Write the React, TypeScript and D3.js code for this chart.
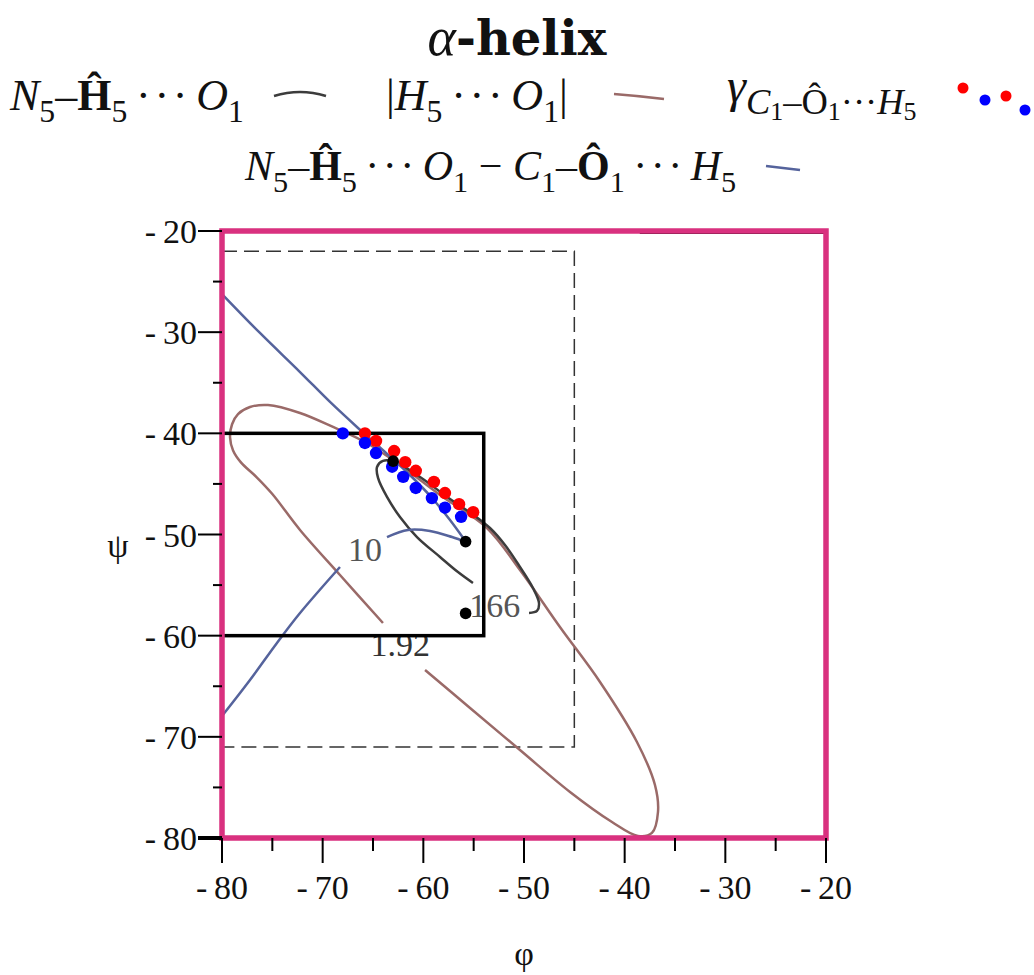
import React from 'react';
import * as d3 from 'd3';

type Pt = [number, number];

// axis ticks (degrees)
const phiTicks = [-80, -70, -60, -50, -40, -30, -20];
const psiTicks = [-20, -30, -40, -50, -60, -70, -80];
const minorTicks = [-75, -65, -55, -45, -35, -25];

// |H5···O1| = 1.92 contour (open at its label)
const hoContour: Pt[] = [
  [-59.83, -63.39], [-55.36, -67.15], [-50.4, -71.3], [-45.43, -75.45], [-41.26, -78.42],
  [-38.68, -79.8], [-37.29, -79.5], [-36.69, -77.43], [-36.99, -74.76], [-38.78, -70.51],
  [-42.45, -64.58], [-46.43, -59.14], [-50.4, -53.51], [-53.68, -49.36], [-58.34, -46.09],
  [-62.32, -43.13], [-65.8, -40.86], [-68.97, -39.37], [-72.25, -37.99], [-75.43, -37.2],
  [-77.22, -37.4], [-78.41, -38.1], [-79.0, -39.1], [-79.2, -40.4], [-78.9, -41.7],
  [-78.1, -42.9], [-76.6, -44.3], [-75.0, -46.0], [-72.25, -49.55], [-68.28, -54.0],
  [-64.01, -58.75],
];

// N5–Ĥ5···O1 angle = 166 contour (open at its label)
const nhoContour: Pt[] = [
  [-55.07, -54.79], [-56.56, -53.71], [-58.34, -52.22], [-60.63, -50.25], [-62.32, -48.27],
  [-63.61, -46.29], [-64.5, -44.41], [-64.6, -43.33], [-64.01, -42.73], [-62.81, -42.83],
  [-60.33, -44.32], [-57.35, -46.49], [-54.87, -48.17], [-53.38, -49.36], [-51.89, -51.04],
  [-50.4, -53.21], [-49.11, -55.29], [-48.51, -56.77], [-48.71, -57.56], [-49.5, -57.76],
];

// dihedral difference = 10 contour, three pieces
const diffUpper: Pt[] = [
  [-80, -26.23], [-76.23, -30.08], [-72.25, -33.94], [-69.27, -36.9], [-66.49, -39.47],
  [-63.81, -41.84], [-61.33, -44.12], [-59.14, -46.39], [-57.35, -48.57], [-55.76, -50.74],
];
const diffReturn: Pt[] = [
  [-55.76, -50.74], [-57.15, -50.25], [-59.34, -49.65], [-61.52, -49.55], [-63.61, -50.25],
];
const diffLower: Pt[] = [
  [-68.28, -53.21], [-72.25, -57.76], [-74.54, -60.72], [-77.22, -64.38], [-80, -67.94],
];

// γ points
const gammaRed: Pt[] = [
  [-65.8, -40.0], [-64.7, -40.75], [-62.9, -41.75], [-61.8, -42.85], [-60.75, -43.7],
  [-58.95, -44.8], [-57.85, -45.9], [-56.45, -47.0], [-55.05, -47.8],
];
const gammaBlue: Pt[] = [
  [-68.0, -40.0], [-65.8, -40.95], [-64.7, -41.95], [-63.1, -43.3], [-62.0, -44.3],
  [-60.75, -45.4], [-59.15, -46.4], [-57.85, -47.35], [-56.25, -48.25],
];
const blackPoints: Pt[] = [[-63.0, -42.75], [-55.8, -50.7], [-55.8, -57.8]];

const contourLabels = [
  { text: '10', phi: -65.8, psi: -51.4, color: '#555' },
  { text: '166', phi: -52.9, psi: -57.0, color: '#555' },
  { text: '1.92', phi: -62.3, psi: -60.8, color: '#333' },
];

const dashedBox = { phi0: -80, phi1: -45, psi0: -22, psi1: -71 };
const solidBox = { phi0: -80, phi1: -54, psi0: -40, psi1: -60 };

type Seg = { t: string; f?: 'i' | 'b' | 'r'; lvl?: number };

const DOTS = '\u2009\u00b7\u200a\u00b7\u200a\u00b7\u2009';

const nhoLabel: Seg[] = [
  { t: 'N', f: 'i' }, { t: '5', lvl: 1 }, { t: '–' }, { t: 'Ĥ', f: 'b' }, { t: '5', lvl: 1 },
  { t: DOTS }, { t: 'O', f: 'i' }, { t: '1', lvl: 1 },
];
const hoLabel: Seg[] = [
  { t: '|' }, { t: 'H', f: 'i' }, { t: '5', lvl: 1 }, { t: DOTS }, { t: 'O', f: 'i' },
  { t: '1', lvl: 1 }, { t: '|' },
];
const gammaLabel: Seg[] = [
  { t: 'γ', f: 'i' }, { t: 'C', f: 'i', lvl: 1 }, { t: '1', lvl: 2 }, { t: '–', lvl: 1 },
  { t: 'Ô', lvl: 1 }, { t: '1', lvl: 2 }, { t: '···', lvl: 1 }, { t: 'H', f: 'i', lvl: 1 },
  { t: '5', lvl: 2 },
];
const diffLabel: Seg[] = [
  { t: 'N', f: 'i' }, { t: '5', lvl: 1 }, { t: '–' }, { t: 'Ĥ', f: 'b' }, { t: '5', lvl: 1 },
  { t: DOTS }, { t: 'O', f: 'i' }, { t: '1', lvl: 1 }, { t: ' − ' }, { t: 'C', f: 'i' },
  { t: '1', lvl: 1 }, { t: '–' }, { t: 'Ô', f: 'b' }, { t: '1', lvl: 1 }, { t: DOTS },
  { t: 'H', f: 'i' }, { t: '5', lvl: 1 },
];

const SERIF = "'Liberation Serif', 'Times New Roman', serif";
const PINK = '#d9317f';
const BROWN = '#9a6a68';
const SLATE = '#55639c';
const DARK = '#3c3c3c';

function MathText({
  segs,
  x,
  y,
  size,
  scale = [1, 0.72, 0.58],
  shift = [0, 0.28, 0.5],
}: {
  segs: Seg[];
  x: number;
  y: number;
  size: number;
  scale?: number[];
  shift?: number[];
}) {
  return (
    <text x={x} y={y} fontFamily={SERIF} fontSize={size} fill="#111">
      {segs.map((s, i) => {
        const lvl = s.lvl ?? 0;
        const prev = i > 0 ? segs[i - 1].lvl ?? 0 : 0;
        return (
          <tspan
            key={i}
            dy={(shift[lvl] - shift[prev]) * size}
            fontSize={size * scale[lvl]}
            fontStyle={s.f === 'i' ? 'italic' : 'normal'}
            fontWeight={s.f === 'b' ? 'bold' : 'normal'}
          >
            {s.t}
          </tspan>
        );
      })}
    </text>
  );
}

export default function App() {
  const x = d3.scaleLinear().domain([-80, -20]).range([222, 826]);
  const y = d3.scaleLinear().domain([-20, -80]).range([231, 838]);

  const curve = d3
    .line<Pt>()
    .x((d) => x(d[0]))
    .y((d) => y(d[1]))
    .curve(d3.curveCatmullRom.alpha(0.5));

  const box = (b: { phi0: number; phi1: number; psi0: number; psi1: number }) => ({
    x: x(b.phi0),
    y: y(b.psi0),
    width: x(b.phi1) - x(b.phi0),
    height: y(b.psi1) - y(b.psi0),
  });

  const dBox = box(dashedBox);
  const sBox = box(solidBox);

  return (
    <svg
      width={1034}
      height={975}
      style={{ position: 'absolute', left: 0, top: 0, background: '#fff' }}
    >
      {/* title */}
      <text
        x={517}
        y={55}
        textAnchor="middle"
        fontFamily="'DejaVu Serif', serif"
        fontSize={48}
        fontWeight="bold"
        fill="#111"
      >
        <tspan fontStyle="italic" fontWeight="normal" fontFamily={SERIF} fontSize={54}>
          α
        </tspan>
        -helix
      </text>

      {/* legend */}
      <MathText segs={nhoLabel} x={10} y={110} size={44} />
      <path d="M274,96 Q300,88 326,96" fill="none" stroke={DARK} strokeWidth={2.5} />
      <MathText segs={hoLabel} x={386} y={110} size={44} />
      <path d="M614,94 Q640,96 664,99" fill="none" stroke={BROWN} strokeWidth={2.5} />
      <MathText
        segs={gammaLabel}
        x={727}
        y={102}
        size={48}
        scale={[1, 0.76, 0.54]}
        shift={[0, 0.24, 0.38]}
      />
      {[
        { cx: 963, cy: 88, c: 'red' },
        { cx: 985, cy: 100, c: 'blue' },
        { cx: 1006, cy: 96, c: 'red' },
        { cx: 1025, cy: 110, c: 'blue' },
      ].map((d, i) => (
        <circle key={i} cx={d.cx} cy={d.cy} r={5.5} fill={d.c} />
      ))}
      <MathText segs={diffLabel} x={245} y={180} size={42} />
      <path d="M766,166 L800,170" fill="none" stroke={SLATE} strokeWidth={2.5} />

      <rect {...dBox} fill="none" stroke="#333" strokeWidth={1.5} strokeDasharray="15 7" />

      {/* contours */}
      <path d={curve(hoContour) ?? ''} fill="none" stroke={BROWN} strokeWidth={2.5} />
      <path d={curve(nhoContour) ?? ''} fill="none" stroke={DARK} strokeWidth={2.5} />
      <path d={curve(diffUpper) ?? ''} fill="none" stroke={SLATE} strokeWidth={2.5} />
      <path d={curve(diffReturn) ?? ''} fill="none" stroke={SLATE} strokeWidth={2.5} />
      <path d={curve(diffLower) ?? ''} fill="none" stroke={SLATE} strokeWidth={2.5} />

      {contourLabels.map((l) => (
        <text
          key={l.text}
          x={x(l.phi)}
          y={y(l.psi) + 12}
          textAnchor="middle"
          fontFamily={SERIF}
          fontSize={34}
          fill={l.color}
        >
          {l.text}
        </text>
      ))}

      <rect {...sBox} fill="none" stroke="#000" strokeWidth={3.5} />

      {/* γ points */}
      {gammaRed.map((d, i) => (
        <circle key={'r' + i} cx={x(d[0])} cy={y(d[1])} r={6.2} fill="red" />
      ))}
      {gammaBlue.map((d, i) => (
        <circle key={'b' + i} cx={x(d[0])} cy={y(d[1])} r={6.2} fill="blue" />
      ))}
      {blackPoints.map((d, i) => (
        <circle key={'k' + i} cx={x(d[0])} cy={y(d[1])} r={5.8} fill="#000" />
      ))}

      <line x1={x(-38.5)} x2={x(-20)} y1={y(-20) + 2} y2={y(-20) + 2} stroke="#000" strokeWidth={2} />

      {/* border */}
      <rect
        x={x(-80)}
        y={y(-20)}
        width={x(-20) - x(-80)}
        height={y(-80) - y(-20)}
        fill="none"
        stroke={PINK}
        strokeWidth={5.5}
      />

      {/* y axis */}
      {psiTicks.map((t) => (
        <g key={'yt' + t}>
          <line x1={x(-80) - 24} x2={x(-80)} y1={y(t)} y2={y(t)} stroke="#000" strokeWidth={t === -80 ? 4 : 2} />
          <text x={x(-80) - 25} y={y(t) + 12} textAnchor="end" fontFamily={SERIF} fontSize={34} fill="#111">
            {'-\u2009' + Math.abs(t)}
          </text>
        </g>
      ))}
      {minorTicks.map((t) => (
        <line key={'ym' + t} x1={x(-80) - 9} x2={x(-80)} y1={y(t)} y2={y(t)} stroke="#000" strokeWidth={2} />
      ))}

      {/* x axis */}
      {phiTicks.map((t) => (
        <g key={'xt' + t}>
          <line x1={x(t)} x2={x(t)} y1={y(-80)} y2={y(-80) + 25} stroke="#000" strokeWidth={2} />
          <text x={x(t)} y={y(-80) + 61} textAnchor="middle" fontFamily={SERIF} fontSize={34} fill="#111">
            {'-\u2009' + Math.abs(t)}
          </text>
        </g>
      ))}
      {minorTicks.map((t) => (
        <line key={'xm' + t} x1={x(t)} x2={x(t)} y1={y(-80)} y2={y(-80) + 13} stroke="#000" strokeWidth={2} />
      ))}

      {/* axis titles */}
      <text x={x(-50)} y={965} textAnchor="middle" fontFamily={SERIF} fontSize={34} fill="#111">
        φ
      </text>
      <text x={118} y={y(-50) + 22} textAnchor="middle" fontFamily={SERIF} fontSize={34} fill="#111">
        ψ
      </text>
    </svg>
  );
}
